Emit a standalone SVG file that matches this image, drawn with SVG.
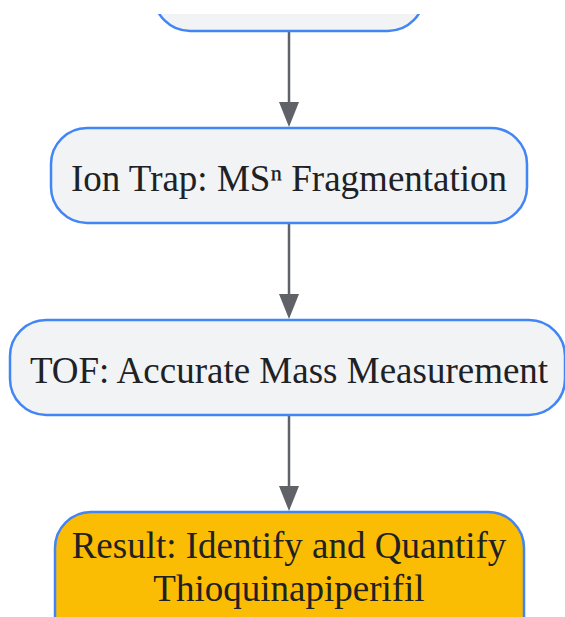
<svg xmlns="http://www.w3.org/2000/svg" width="565" height="617" viewBox="0 0 565 617">
<style>
.node{fill:#f1f3f4;stroke:#4285f4;stroke-width:2.5}
.result{fill:#fbbc04;stroke:#4285f4;stroke-width:2.5}
.lbl{font-family:"Liberation Serif","Times New Roman",serif;font-size:37px;fill:#202124;text-anchor:middle}
.edge{stroke:#5f6368;stroke-width:2.5;fill:none}
</style>
<defs>
<clipPath id="topclip"><rect x="0" y="14" width="565" height="603"/></clipPath>
</defs>
<rect width="565" height="617" fill="#ffffff"/>
<g id="connectors">
<line class="edge" x1="289" y1="32" x2="289" y2="104"/>
<path d="M279,102 L289,127 L299,102 z" fill="#5f6368"/>
<line class="edge" x1="289" y1="224" x2="289" y2="296"/>
<path d="M279,294 L289,319 L299,294 z" fill="#5f6368"/>
<line class="edge" x1="289" y1="416" x2="289" y2="488"/>
<path d="M279,486 L289,511 L299,486 z" fill="#5f6368"/>
</g>
<g id="node-top" clip-path="url(#topclip)">
<rect class="node" x="154" y="-60" width="270" height="91" rx="36"/>
</g>
<g id="node-iontrap">
<rect class="node" x="51" y="128" width="476" height="95" rx="36"/>
<text class="lbl" x="289" y="191">Ion Trap: MSⁿ Fragmentation</text>
</g>
<g id="node-tof">
<rect class="node" x="10" y="320" width="555" height="95" rx="36"/>
<text class="lbl" x="289" y="383">TOF: Accurate Mass Measurement</text>
</g>
<g id="node-result">
<rect class="result" x="55" y="512" width="469" height="140" rx="36"/>
<text class="lbl" x="289" y="558">Result: Identify and Quantify</text>
<text class="lbl" x="289" y="601">Thioquinapiperifil</text>
</g>
</svg>
